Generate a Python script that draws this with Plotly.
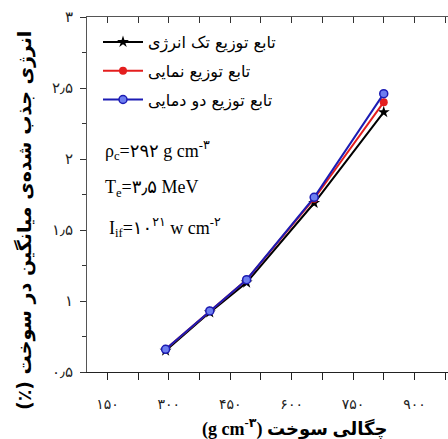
import plotly.graph_objects as go

# ---- data ----
density = [292, 400, 490, 655, 825]
energy_mono = [0.65, 0.92, 1.13, 1.69, 2.33]
energy_exp = [0.66, 0.93, 1.15, 1.72, 2.40]
energy_two = [0.66, 0.93, 1.15, 1.73, 2.46]

series_names = ["تابع توزیع تک انرژی", "تابع توزیع نمایی", "تابع توزیع دو دمایی"]

x_tickvals = [150, 300, 450, 600, 750, 900]
x_ticktext = ["۱۵۰", "۳۰۰", "۴۵۰", "۶۰۰", "۷۵۰", "۹۰۰"]
y_tickvals = [0.5, 1, 1.5, 2, 2.5, 3]
y_ticktext = ["۰٫۵", "۱", "۱٫۵", "۲", "۲٫۵", "۳"]

x_title = "(g cm<sup>-۳</sup>) چگالی سوخت"
y_title = "(٪) انرژی جذب شده‌ی میانگین در سوخت"
notes = ["ρ<sub>c</sub>=۲۹۲ g cm<sup>-۳</sup>",
         "T<sub>e</sub>=۳٫۵ MeV",
         "I<sub>if</sub>=۱۰<sup>۲۱</sup> w cm<sup>-۲</sup>"]
note_y = [2.06, 1.79, 1.52]
note_x = [103, 103, 107]

W, H = 448, 439
ML, MR, MT, MB = 87, 0, 17, 67
XR = [100, 982]
YR = [0.5, 3.0]

fig = go.Figure()
fig.add_trace(go.Scatter(x=density, y=energy_mono, name=series_names[0], mode="lines+markers",
                         legendgroup="a",
                         line=dict(color="black", width=2),
                         marker=dict(symbol="star", size=9, color="black")))
fig.add_trace(go.Scatter(x=density, y=energy_exp, name=series_names[1], mode="lines+markers",
                         legendgroup="b",
                         line=dict(color="#e41e1e", width=2),
                         marker=dict(symbol="circle", size=8, color="#e41e1e")))
fig.add_trace(go.Scatter(x=density, y=energy_two, name=series_names[2], mode="lines+markers",
                         legendgroup="c",
                         line=dict(color="#1c1cb4", width=2),
                         marker=dict(symbol="circle", size=8, color="#6d7ef0",
                                     line=dict(color="#1c1cb4", width=1.5))))
# invisible trace to activate the top axis
fig.add_trace(go.Scatter(x=[], y=[], xaxis="x2", showlegend=False, hoverinfo="skip"))

pw = W - ML - MR
ph = H - MT - MB

def px_to_paper_x(px):
    return (px - ML) / pw

ann = []
for t, yv, xp in zip(notes, note_y, note_x):
    ann.append(dict(text=t, x=px_to_paper_x(xp), xref="paper", y=yv, yref="y",
                    xanchor="left", yanchor="middle", showarrow=False,
                    font=dict(family="Liberation Serif, DejaVu Sans", size=18, color="black")))
ann.append(dict(text=x_title, x=px_to_paper_x(295), xref="paper", y=-(428 - (MT + ph)) / ph,
                yref="paper", xanchor="center", yanchor="middle", showarrow=False,
                font=dict(family="Liberation Serif, DejaVu Sans", size=18, color="black", weight="bold")))
ann.append(dict(text=y_title, x=px_to_paper_x(24), xref="paper", y=(MT + ph - 221) / ph,
                yref="paper", xanchor="center", yanchor="middle", showarrow=False, textangle=-90,
                font=dict(family="DejaVu Sans", size=19, color="black", weight="bold")))

fig.update_layout(
    width=W, height=H,
    margin=dict(l=ML, r=MR, t=MT, b=MB, pad=0),
    paper_bgcolor="white", plot_bgcolor="white",
    showlegend=True,
    legend=dict(x=px_to_paper_x(98), y=1 - (8 / ph), xanchor="left", yanchor="top",
                bgcolor="rgba(0,0,0,0)", font=dict(family="DejaVu Sans", size=16, color="black"),
                itemwidth=40, tracegroupgap=5),
    annotations=ann,
    xaxis=dict(range=XR, tickmode="array", tickvals=x_tickvals, ticktext=x_ticktext,
               ticks="outside", ticklen=7, tickcolor="#222", showline=True, linecolor="#222",
               linewidth=1, showgrid=False, zeroline=False, ticklabelstandoff=12,
               tickfont=dict(family="DejaVu Sans", size=14, color="#222"),
               minor=dict(tickmode="linear", tick0=150, dtick=75, ticks="outside", ticklen=7,
                          tickcolor="#222", showgrid=False)),
    xaxis2=dict(range=XR, overlaying="x", side="top", anchor="y", tickmode="linear",
                tick0=150, dtick=75, ticks="inside", ticklen=6, tickcolor="#333",
                showticklabels=False, showline=True, linecolor="#555", linewidth=1,
                showgrid=False, zeroline=False),
    yaxis=dict(range=YR, tickmode="array", tickvals=y_tickvals, ticktext=y_ticktext,
               ticks="outside", ticklen=6, tickcolor="#333", showline=True, linecolor="#555",
               linewidth=1, showgrid=False, zeroline=False, ticklabelstandoff=4,
               tickfont=dict(family="DejaVu Sans", size=15, color="#222"),
               minor=dict(tickmode="linear", tick0=0.5, dtick=0.25, ticks="outside", ticklen=4,
                          tickcolor="#333", showgrid=False)),
)

fig.write_html("out.html", config={"displayModeBar": False},
               post_script="document.body.style.margin='0';")
